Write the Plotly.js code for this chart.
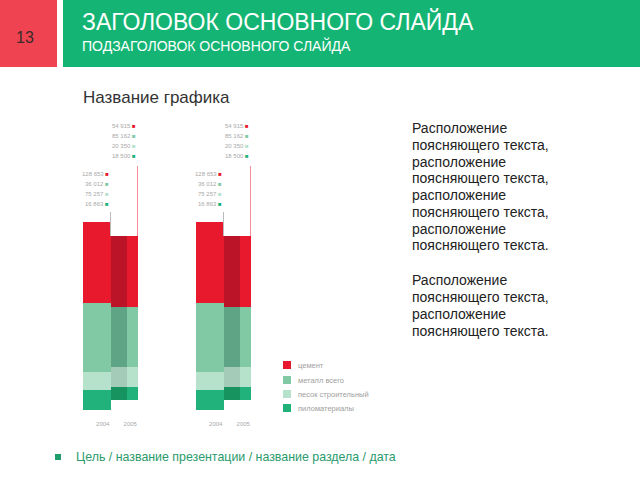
<!DOCTYPE html>
<html><head><meta charset="utf-8">
<script src="https://cdn.plot.ly/plotly-3.0.1.min.js"></script>
<style>html,body{margin:0;padding:0;background:#fff}#chart{width:640px;height:480px}</style>
</head><body><div id="chart"></div>
<script>
// ---- data ----
const years = ['2004', '2005'];
const seriesNames = ['цемент', 'металл всего', 'песок строительный', 'пиломатериалы'];
const cement = [81, 71];
const metal = [69, 60];
const sand = [18, 20];
const lumber = [20, 13];
const labels2004 = ['128 653', '36 012', '75 257', '16 863'];
const labels2005 = ['54 915', '85 162', '20 350', '18 500'];

// ---- styles ----
const colors = ['#e8192c', '#80c9a4', '#b6e2cc', '#20b27a'];
const shadeColors = ['#bb1428', '#5fa585', '#a3cbb7', '#17935f'];
const seriesVals = [cement, metal, sand, lumber];
const font = 'Liberation Sans, Arial, sans-serif';
const W = 640, H = 480;
const px = v => v / W, py = v => 1 - v / H;

const traces = [];
const groups = ['x', 'x2'];
groups.forEach((xa, g) => {
  for (let i = seriesVals.length - 1; i >= 0; i--) {
    traces.push({type: 'bar', x: [years[0]], y: [seriesVals[i][0]], xaxis: xa, yaxis: 'y',
      marker: {color: colors[i], line: {width: 0}}, width: 1, name: seriesNames[i],
      showlegend: false, hoverinfo: 'skip'});
    traces.push({type: 'bar', x: [years[1]], y: [seriesVals[i][1]], xaxis: xa, yaxis: 'y2',
      marker: {color: colors[i], line: {width: 0}}, width: 1, name: seriesNames[i],
      showlegend: false, hoverinfo: 'skip'});
    traces.push({type: 'bar', x: [years[1]], y: [seriesVals[i][1]], xaxis: xa, yaxis: 'y3',
      marker: {color: shadeColors[i], line: {width: 0}}, width: 0.6, offset: -0.5, name: seriesNames[i],
      showlegend: false, hoverinfo: 'skip'});
  }
});

const annotations = [];
const shapes = [];
groups.forEach((xa) => {
  const rows04 = [174, 184, 194, 204], rows05 = [126, 136, 146, 156];
  labels2004.forEach((t, i) => annotations.push({xref: xa, yref: 'paper', x: 0.5, y: py(rows04[i]),
    xanchor: 'right', yanchor: 'middle', showarrow: false,
    text: t + ' <span style="color:' + colors[i] + '">■</span>', font: {family: font, size: 6, color: '#a8a8a8'}}));
  labels2005.forEach((t, i) => annotations.push({xref: xa, yref: 'paper', x: 1.5, y: py(rows05[i]),
    xanchor: 'right', yanchor: 'middle', showarrow: false,
    text: t + ' <span style="color:' + colors[i] + '">■</span>', font: {family: font, size: 6, color: '#a8a8a8'}}));
  shapes.push({type: 'line', xref: xa, yref: 'paper', x0: 1.5, x1: 1.5, y0: py(166), y1: py(240), line: {color: '#e8192c', width: 1}});
  shapes.push({type: 'line', xref: xa, yref: 'paper', x0: 0.5, x1: 0.5, y0: py(212), y1: py(236), line: {color: '#bbbbbb', width: 1}});
});

// custom legend
const legendRows = [365, 380, 394, 408];
seriesNames.forEach((n, i) => {
  shapes.push({type: 'rect', xref: 'paper', yref: 'paper', x0: px(283), x1: px(291),
    y0: py(legendRows[i] + 4), y1: py(legendRows[i] - 4), fillcolor: colors[i], line: {width: 0}});
  annotations.push({xref: 'paper', yref: 'paper', x: px(296), y: py(legendRows[i]), xanchor: 'left', yanchor: 'middle',
    showarrow: false, text: n, font: {family: font, size: 7.5, color: '#a0a0a0'}});
});

// slide decorations
shapes.push({type: 'rect', xref: 'paper', yref: 'paper', x0: 0, x1: px(57), y0: py(67), y1: 1, fillcolor: '#ef4352', line: {width: 0}, layer: 'below'});
shapes.push({type: 'rect', xref: 'paper', yref: 'paper', x0: px(63), x1: 1, y0: py(67), y1: 1, fillcolor: '#14b574', line: {width: 0}, layer: 'below'});
shapes.push({type: 'rect', xref: 'paper', yref: 'paper', x0: px(55), x1: px(61), y0: py(460), y1: py(454), fillcolor: '#1f9e6b', line: {width: 0}});

annotations.push({xref: 'paper', yref: 'paper', x: px(25), y: py(37), xanchor: 'center', yanchor: 'middle', showarrow: false,
  text: '13', font: {family: font, size: 16, color: '#3a2a2a'}});
annotations.push({xref: 'paper', yref: 'paper', x: px(80), y: py(22), xanchor: 'left', yanchor: 'middle', showarrow: false,
  text: 'ЗАГОЛОВОК ОСНОВНОГО СЛАЙДА', font: {family: font, size: 23, color: '#ffffff'}});
annotations.push({xref: 'paper', yref: 'paper', x: px(80), y: py(45), xanchor: 'left', yanchor: 'middle', showarrow: false,
  text: 'ПОДЗАГОЛОВОК ОСНОВНОГО СЛАЙДА', font: {family: font, size: 14, color: '#ffffff'}});
annotations.push({xref: 'paper', yref: 'paper', x: px(81), y: py(98), xanchor: 'left', yanchor: 'middle', showarrow: false,
  text: 'Название графика', font: {family: font, size: 17, color: '#333333'}});
const p1 = ['Расположение', 'поясняющего текста,', 'расположение', 'поясняющего текста,', 'расположение', 'поясняющего текста,', 'расположение', 'поясняющего текста.'];
const p2 = ['Расположение', 'поясняющего текста,', 'расположение', 'поясняющего текста.'];
p1.forEach((t, i) => annotations.push({xref: 'paper', yref: 'paper', x: px(410), y: py(128 + i * 16.75), xanchor: 'left', yanchor: 'middle',
  showarrow: false, text: t, font: {family: font, size: 14, color: '#222222'}}));
p2.forEach((t, i) => annotations.push({xref: 'paper', yref: 'paper', x: px(410), y: py(280 + i * 17), xanchor: 'left', yanchor: 'middle',
  showarrow: false, text: t, font: {family: font, size: 14, color: '#222222'}}));
annotations.push({xref: 'paper', yref: 'paper', x: px(74), y: py(457), xanchor: 'left', yanchor: 'middle', showarrow: false,
  text: 'Цель / название презентации / название раздела / дата', font: {family: font, size: 12.4, color: '#2a9a6c'}});

const xCommon = {type: 'category', categoryorder: 'array', categoryarray: years, range: [-0.5, 1.5],
  showgrid: false, zeroline: false, showline: false, ticks: '', anchor: 'free', position: py(419),
  ticklabelshift: 6, tickfont: {family: font, size: 6, color: '#a8a8a8'}, fixedrange: true};
const yCommon = {range: [0, 200], visible: false, showgrid: false, zeroline: false, fixedrange: true};

const layout = {
  width: W, height: H, margin: {l: 0, r: 0, t: 0, b: 0},
  paper_bgcolor: '#ffffff', plot_bgcolor: 'rgba(0,0,0,0)',
  barmode: 'stack', bargap: 0, showlegend: false,
  xaxis: Object.assign({}, xCommon, {domain: [px(83), px(138)]}),
  xaxis2: Object.assign({}, xCommon, {domain: [px(196), px(251)]}),
  yaxis: Object.assign({}, yCommon, {domain: [py(410), py(210)], anchor: 'x'}),
  yaxis2: Object.assign({}, yCommon, {domain: [py(400), py(200)], anchor: 'x'}),
  yaxis3: Object.assign({}, yCommon, {overlaying: 'y2', anchor: 'x'}),
  annotations: annotations, shapes: shapes
};
Plotly.newPlot('chart', traces, layout, {staticPlot: true, displayModeBar: false});
</script></body></html>
